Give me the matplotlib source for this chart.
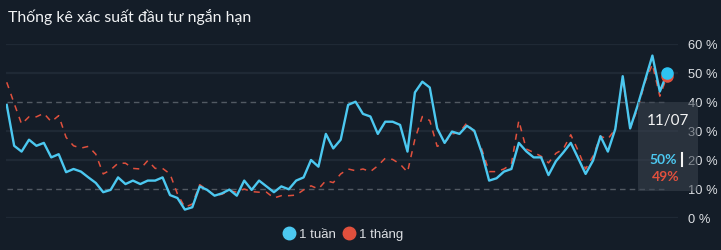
import matplotlib
matplotlib.use('Agg')
import matplotlib.pyplot as plt
from matplotlib.lines import Line2D
from matplotlib.patches import Rectangle
import numpy as np

# xác suất (%) - chuỗi 1 tuần và 1 tháng
week = [39, 24.9, 22.9, 27, 24.9, 25.9, 20.9, 22, 15.8, 16.9,
        16, 14, 12.1, 8.9, 9.7, 14, 11.7, 12.9, 11.7, 12.9,
        12.9, 14, 7.9, 6.9, 2.9, 3.7, 10.9, 9.7, 7.7, 8.5,
        9.8, 7.7, 12.9, 9.7, 12.9, 10.9, 8.9, 10.9, 9.9, 12.9,
        14, 20, 17.7, 29, 24, 27, 39, 40.1, 35.9, 35,
        29, 33.2, 33.2, 32.1, 22.9, 43.3, 47, 45, 30.9, 25.9,
        29.8, 29, 31.8, 30.1, 22.6, 12.9, 13.7, 16, 16.9, 25.9,
        23, 20.9, 20.9, 14.8, 19.6, 22.6, 25.9, 20.6, 15.2, 19.8,
        28.2, 22.9, 30.7, 48.9, 30.9, 38.7, 47.4, 56, 43.6, 50]
month = [46.8, 39.5, 32.4, 34.9, 34.9, 36.1, 33.2, 35.3, 27.8, 24.9,
         24.1, 24.7, 22, 15.2, 16.6, 18.9, 18.9, 17.1, 16.9, 19.8,
         17.1, 17.1, 15.2, 8.3, 3.7, 4.8, 11.5, 9.7, 7.7, 8.2,
         9.4, 8.9, 10, 9.1, 8.9, 8.9, 6.9, 7.7, 7.7, 7.9,
         9.7, 11.1, 10, 12.9, 12.2, 15.2, 16.9, 16.3, 16.9, 16,
         18, 20.6, 20.2, 18.6, 15.8, 27.2, 35, 33.6, 24.7, 25.9,
         29, 29.5, 32.8, 29.5, 23.8, 16, 16, 16.9, 18.6, 33.6,
         23.8, 22.6, 21.3, 19, 22.3, 23.8, 28.7, 23.2, 16.9, 21.3,
         28.2, 27.2, 30.7, 48, 30.9, 37.6, 46.8, 53, 42, 49]
yticks = [0, 10, 20, 30, 40, 50, 60]
solid_grid = [0, 20, 30, 50, 60]
thresholds = [10, 40]
last_date = '11/07'
series_names = ['1 tuần', '1 tháng']

bg = '#141d28'
blue = '#4cc8f0'
red = '#e0503d'
txt = '#dcdfe3'

fig = plt.figure(figsize=(7.21, 2.51), dpi=100, facecolor=bg)
W, H = 721, 251
ax = fig.add_axes([6 / W, 32 / H, 672 / W, 174 / H])
ax.set_facecolor(bg)

x = np.arange(len(week))

# lưới
for v in solid_grid:
    ax.axhline(v, color='#1f2935', lw=1.6, zorder=0)
ax.hlines(thresholds, x[0], x[-1], colors='#525a63', linestyles=(0, (4, 3)), lw=1, zorder=1)

ax.plot(x, month, color=red, lw=1.1, ls=(0, (4, 4)), zorder=2)
ax.plot(x, week, color=blue, lw=1.7, zorder=3)
ax.plot(x[-1], month[-1], 'o', color=red, ms=8, zorder=4)
ax.plot(x[-1], week[-1], 'o', color='#2ec4f2', ms=8, zorder=5)

ax.set_xlim(-0.1, 90.45)
ax.set_ylim(0, 60)
ax.set_xticks([])
ax.yaxis.tick_right()
ax.set_yticks(yticks)
ax.set_yticklabels([f'{t} %' for t in yticks], family='Liberation Sans')
ax.tick_params(axis='y', length=0, pad=7.5, labelcolor=txt, labelsize=9.3)
for s in ax.spines.values():
    s.set_visible(False)

# tiêu đề
fig.text(8 / W, 1 - 17 / H, 'Thống kê xác suất đầu tư ngắn hạn', color='#f0f2f4',
         fontsize=11.4, family=['Lato', 'DejaVu Sans'], va='center', ha='left')

# tooltip
fig.patches.append(Rectangle((638 / W, 1 - 192 / H), 60 / W, 89 / H, transform=fig.transFigure,
                             facecolor='#3b444f', alpha=0.55, edgecolor='none', zorder=6))
fig.text(668 / W, 1 - 121 / H, last_date, color='#f4f4f4', fontsize=11,
         family=['Lato', 'DejaVu Sans'], ha='center', va='center', zorder=7)
fig.text(677 / W, 1 - 160 / H, f'{week[-1]:.0f}%', color=blue, fontsize=10, fontweight='bold',
         family=['Lato', 'DejaVu Sans'], ha='right', va='center', zorder=7)
fig.text(680 / W, 1 - 177 / H, f'{month[-1]:.0f}%', color=red, fontsize=10, fontweight='bold',
         family=['Lato', 'DejaVu Sans'], ha='right', va='center', zorder=7)
fig.add_artist(Line2D([682 / W, 682 / W], [1 - 154 / H, 1 - 167 / H], color='#f4f4f4', lw=1.5,
                      transform=fig.transFigure, zorder=7))

handles = [Line2D([], [], marker='o', ls='', color=blue, ms=9, label=series_names[0]),
           Line2D([], [], marker='o', ls='', color=red, ms=9, label=series_names[1])]
fig.legend(handles=handles, loc='center', bbox_to_anchor=(343 / W, 1 - 235 / H), ncol=2,
           frameon=False, handletextpad=0.25, columnspacing=0.5, labelcolor=txt,
           prop={'family': 'Liberation Sans', 'size': 9.5}, handlelength=1.0)

plt.savefig('out.png', dpi=100, facecolor=bg)
